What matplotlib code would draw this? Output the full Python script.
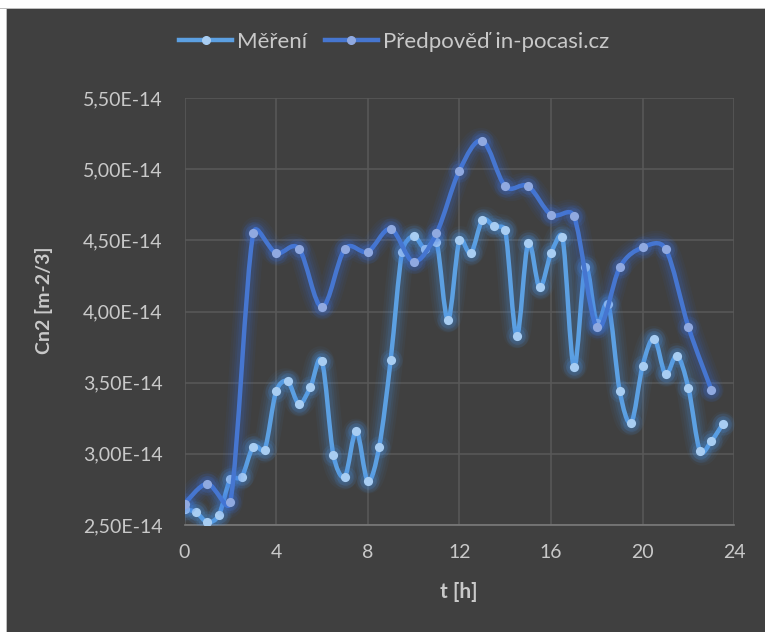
import matplotlib
matplotlib.use("Agg")
import numpy as np
import matplotlib.pyplot as plt
from matplotlib.path import Path
from matplotlib.patches import PathPatch, Rectangle
from matplotlib.lines import Line2D
from matplotlib.ticker import FuncFormatter, FixedLocator

# --- data -------------------------------------------------------------
t_mereni = [0.0, 0.5, 1.0, 1.5, 2.0, 2.5, 3.0, 3.5, 4.0, 4.5, 5.0, 5.5,
            6.0, 6.5, 7.0, 7.5, 8.0, 8.5, 9.0, 9.5, 10.0, 10.5, 11.0, 11.5,
            12.0, 12.5, 13.0, 13.5, 14.0, 14.5, 15.0, 15.5, 16.0, 16.5, 17.0, 17.5,
            18.0, 18.5, 19.0, 19.5, 20.0, 20.5, 21.0, 21.5, 22.0, 22.5, 23.0, 23.5]
cn2_mereni = [2.61, 2.59, 2.52, 2.57, 2.82, 2.84, 3.05, 3.03, 3.44, 3.51, 3.35, 3.47,
              3.65, 2.99, 2.84, 3.16, 2.81, 3.05, 3.66, 4.42, 4.53, 4.44, 4.49, 3.94,
              4.50, 4.41, 4.64, 4.60, 4.57, 3.83, 4.48, 4.17, 4.41, 4.52, 3.61, 4.31,
              3.92, 4.05, 3.44, 3.22, 3.62, 3.81, 3.56, 3.69, 3.46, 3.02, 3.09, 3.21]

t_predpoved = [0, 1, 2, 3, 4, 5, 6, 7, 8, 9, 10, 11,
               12, 13, 14, 15, 16, 17, 18, 19, 20, 21, 22, 23]
cn2_predpoved = [2.65, 2.79, 2.66, 4.55, 4.41, 4.44, 4.03, 4.44, 4.42, 4.58, 4.35, 4.55,
                 4.99, 5.20, 4.88, 4.88, 4.68, 4.67, 3.89, 4.31, 4.45, 4.44, 3.89, 3.45]

EXP = 1e-14
series_names = ["Měření", "Předpověď in-pocasi.cz"]
x_ticks = [0, 4, 8, 12, 16, 20, 24]
y_ticks = [2.50, 3.00, 3.50, 4.00, 4.50, 5.00, 5.50]

# --- style ------------------------------------------------------------
BG = "#404040"
GRID = "#595959"
TEXT = "#C9C9C9"
FONT = ["Lato", "DejaVu Sans"]
plt.rcParams["font.family"] = FONT

styles = [
    dict(line="#5CA0E2", marker="#A8CDF2", glow="#4A96EA"),
    dict(line="#4676D0", marker="#90A9E0", glow="#3C74E4"),
]


def smooth_path(ax, x, y):
    """Smoothed cubic Bezier path through the points.

    Tangents follow the neighbouring points (1/6 of the chord), capped at
    half the segment length; computed in screen space, returned in data space.
    """
    pts = ax.transData.transform(np.column_stack([x, y]).astype(float))
    n = len(pts)
    verts = [pts[0]]
    codes = [Path.MOVETO]
    for i in range(n - 1):
        p0 = pts[i - 1] if i > 0 else pts[i]
        p1 = pts[i]
        p2 = pts[i + 1]
        p3 = pts[i + 2] if i + 2 < n else pts[i + 1]
        d02 = np.linalg.norm(p2 - p0)
        d12 = np.linalg.norm(p2 - p1)
        d13 = np.linalg.norm(p3 - p1)
        f = 1 / 6 if d02 / 6 < d12 / 2 else (d12 / (2 * d02) if d02 > 0 else 0)
        g = 1 / 6 if d13 / 6 < d12 / 2 else (d12 / (2 * d13) if d13 > 0 else 0)
        c1 = p1 + f * (p2 - p0)
        c2 = p2 - g * (p3 - p1)
        verts += [c1, c2, p2]
        codes += [Path.CURVE4] * 3
    verts = ax.transData.inverted().transform(np.array(verts))
    return Path(verts, codes)


fig = plt.figure(figsize=(7.65, 6.32), dpi=100, facecolor=BG)

# light page edge along the top and left side
fig.patches.append(Rectangle((0, 1 - 8 / 632), 1, 8 / 632, transform=fig.transFigure,
                             facecolor="#FFFFFF", edgecolor="none", zorder=0))
fig.patches.append(Rectangle((0, 0), 6 / 765, 1, transform=fig.transFigure,
                             facecolor="#FFFFFF", edgecolor="none", zorder=0))
fig.patches.append(Rectangle((0, 1 - 9 / 632), 1, 1.2 / 632, transform=fig.transFigure,
                             facecolor="#BDBDBD", edgecolor="none", zorder=0))
fig.patches.append(Rectangle((6 / 765, 0), 1.2 / 765, 1 - 8 / 632, transform=fig.transFigure,
                             facecolor="#BDBDBD", edgecolor="none", zorder=0))

ax = fig.add_axes([184.5 / 765, 1 - 525 / 632, (734.3 - 184.5) / 765, (525 - 98) / 632])
ax.set_facecolor(BG)
ax.set_xlim(0, 24)
ax.set_ylim(2.5 * EXP, 5.5 * EXP)

series = [
    (t_mereni, [v * EXP for v in cn2_mereni]),
    (t_predpoved, [v * EXP for v in cn2_predpoved]),
]

for k, ((xs, ys), st) in enumerate(zip(series, styles)):
    path = smooth_path(ax, xs, ys)
    z = 3 + 2 * k
    # soft glow around the line
    for lw, a in [(18, 0.05), (14.5, 0.06), (11, 0.08), (8, 0.11)]:
        ax.add_patch(PathPatch(path, fill=False, edgecolor=st["glow"], lw=lw, alpha=a,
                               capstyle="round", joinstyle="round", zorder=z))
    ax.add_patch(PathPatch(path, fill=False, edgecolor=st["line"], lw=3.2,
                           capstyle="round", joinstyle="round", zorder=z + 0.5))
    for ms, a in [(16, 0.10), (12, 0.15)]:
        ax.plot(xs, ys, "o", ms=ms, color=st["glow"], alpha=a, mew=0, zorder=z + 0.6)
    ax.plot(xs, ys, "o", ms=6.6, color=st["marker"], mew=0, zorder=z + 0.8)

ax.xaxis.set_major_locator(FixedLocator(x_ticks))
ax.yaxis.set_major_locator(FixedLocator([v * EXP for v in y_ticks]))
ax.yaxis.set_major_formatter(FuncFormatter(
    lambda v, p: f"{v / EXP:.2f}".replace(".", ",") + "E-14"))
ax.xaxis.set_major_formatter(FuncFormatter(lambda v, p: f"{v:g}"))

ax.grid(True, color=GRID, lw=1.1, zorder=0)
ax.set_axisbelow(True)
for side in ["top", "right", "left"]:
    ax.spines[side].set_visible(False)
ax.spines["bottom"].set_color("#7A7A7A")
ax.spines["bottom"].set_linewidth(1.2)
ax.tick_params(axis="both", length=0, labelsize=14, labelcolor=TEXT)
ax.tick_params(axis="y", pad=16)
ax.tick_params(axis="x", pad=14)

fig.text(459 / 765, 1 - 592 / 632, "t [h]", ha="center", va="center",
         fontsize=15, fontweight="bold", color=TEXT)
fig.text(44 / 765, 1 - 300 / 632, "Cn2 [m-2/3]", ha="center", va="center",
         rotation=90, fontsize=14, fontweight="bold", color=TEXT)

handles = [Line2D([], [], color=st["line"], lw=3.2, marker="o", ms=5.5,
                  mfc=st["marker"], mec=st["marker"]) for st in styles]
leg = fig.legend(handles, series_names, loc="center", bbox_to_anchor=(0.515, 1 - 42 / 632),
                 ncol=2, frameon=False, fontsize=16, labelcolor=TEXT,
                 handlelength=2.4, handletextpad=0.2, columnspacing=0.8)

fig.savefig("out.png", dpi=100, facecolor=BG)
